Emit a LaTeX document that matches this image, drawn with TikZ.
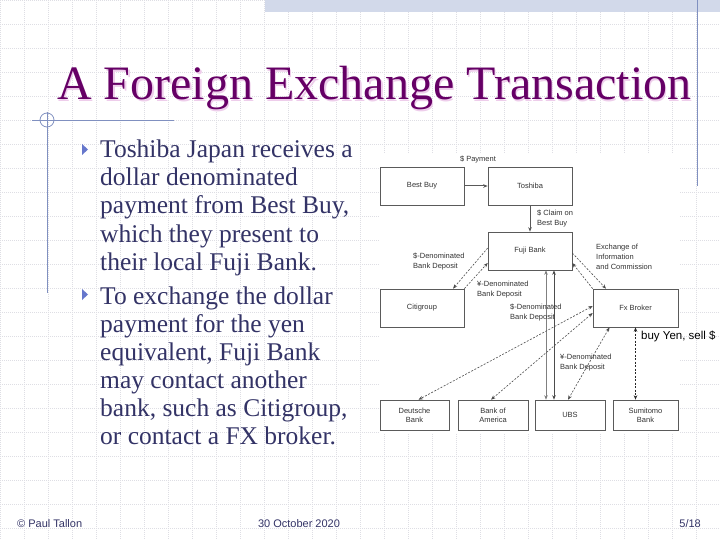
\documentclass[tikz,border=0pt]{standalone}
\usepackage{fontspec}
\setmainfont{Liberation Serif}
\newfontfamily\diagfont{Liberation Sans}
\usetikzlibrary{arrows.meta}
\definecolor{titlepurple}{RGB}{102,0,102}
\definecolor{titleshadow}{RGB}{238,205,235}
\definecolor{bodyblue}{RGB}{51,51,102}
\definecolor{bulletblue}{RGB}{102,119,204}
\definecolor{decoblue}{RGB}{128,144,192}
\definecolor{gridgray}{RGB}{222,222,228}
\definecolor{barblue}{RGB}{210,217,234}
\definecolor{boxgray}{RGB}{90,90,90}

\begin{document}
\begin{tikzpicture}[x=1pt, y=-1pt,
    >={Stealth[length=4.5pt, width=3.5pt]},
    gridline/.style={gridgray, line width=0.4pt, dash pattern=on 0.8pt off 1.2pt},
    deco/.style={decoblue, line width=0.8pt},
    bodytext/.style={anchor=base west, inner sep=0pt, bodyblue, font=\fontsize{25.5}{28}\selectfont},
    bullet/.style={bulletblue},
    firm/.style={draw=boxgray, line width=0.6pt, fill=white, align=center, inner sep=1pt,
      font=\diagfont\fontsize{7.5}{9}\selectfont, text=black!80},
    flowlabel/.style={anchor=west, inner sep=0pt, align=left,
      font=\diagfont\fontsize{7.5}{10}\selectfont, text=black!80},
    solidflow/.style={gray!70!black, line width=1pt, ->},
    dashflow/.style={black!70, line width=0.6pt, dash pattern=on 2pt off 1.5pt},
    footer/.style={inner sep=0pt, bodyblue, font=\diagfont\fontsize{11}{13}\selectfont}]

  \useasboundingbox (0,0) rectangle (720,540);

  %% ===== SLIDE BACKGROUND =====
  \fill[white] (0,0) rectangle (720,540);
  \foreach \gx in {0,24,...,720} \draw[gridline] (\gx,0) -- (\gx,540);
  \foreach \gy in {0,24,...,528} \draw[gridline] (0,\gy) -- (720,\gy);

  % Top bar and frame lines
  \fill[barblue] (265,0) rectangle (720,12);
  \draw[deco] (697,0) -- (697,186);
  \draw[deco] (32,120) -- (174,120);
  \draw[deco] (47,112) -- (47,293);
  \draw[deco] (47,120) circle[radius=7];

  % Title
  \node[anchor=base west, inner sep=0pt, titleshadow, font=\fontsize{48}{48}\selectfont]
    (titleshadow) at (58.5,101.5) {A Foreign Exchange Transaction};
  \node[anchor=base west, inner sep=0pt, titlepurple, font=\fontsize{48}{48}\selectfont]
    (title) at (57,100) {A Foreign Exchange Transaction};

  %% ===== BULLETS =====
  \fill[bullet] (82,144) -- (82,155) -- (88,149.5) -- cycle;
  \foreach \t [count=\i] in {Toshiba Japan receives a, dollar denominated,
      {payment from Best Buy,}, which they present to, their local Fuji Bank.}
    \node[bodytext] (first\i) at (100,130+28*\i) {\t};

  \fill[bullet] (82,289) -- (82,300) -- (88,294.5) -- cycle;
  \foreach \t [count=\i] in {To exchange the dollar, payment for the yen,
      {equivalent, Fuji Bank}, may contact another, {bank, such as Citigroup,},
      or contact a FX broker.}
    \node[bodytext] (second\i) at (100,276+28*\i) {\t};

  %% ===== DIAGRAM =====
  \fill[white] (379,153) rectangle (680,433);

  % Firms
  \node[firm, minimum width=84pt, minimum height=38pt] (bestbuy) at (422,186) {Best Buy};
  \node[firm, minimum width=84pt, minimum height=38pt] (toshiba) at (530,186) {Toshiba};
  \node[firm, minimum width=84pt, minimum height=38pt] (fuji) at (530,251) {Fuji Bank};
  \node[firm, minimum width=84pt, minimum height=38pt] (citi) at (422,308) {Citigroup};
  \node[firm, minimum width=85pt, minimum height=38pt] (fx) at (635.5,308) {Fx Broker};
  \node[firm, minimum width=69pt, minimum height=30pt] (deutsche) at (414.5,415) {Deutsche\\Bank};
  \node[firm, minimum width=70pt, minimum height=30pt] (bofa) at (493,415) {Bank of\\America};
  \node[firm, minimum width=70pt, minimum height=30pt] (ubs) at (570,415) {UBS};
  \node[firm, minimum width=65pt, minimum height=30pt] (sumitomo) at (645.5,415) {Sumitomo\\Bank};

  % Payment and claim
  \draw[solidflow] (bestbuy) -- (toshiba);
  \draw[solidflow] (toshiba) -- (fuji);

  % Fuji Bank and Citigroup
  \draw[dashflow, ->] ([yshift=3pt]fuji.west) -- ([xshift=31pt]citi.north);
  \draw[dashflow, ->] (citi.north east) -- ([yshift=-12pt]fuji.west);

  % Fuji Bank and FX broker
  \draw[dashflow, ->] ([yshift=-2pt]fuji.east) -- ([xshift=-29.5pt]fx.north);
  \draw[dashflow, ->] (fx.north west) -- ([yshift=-12pt]fuji.east);

  % Fuji Bank and UBS
  \draw[gray, line width=0.5pt, <->] ([xshift=16pt]fuji.south) -- ([xshift=16pt]fuji.south |- ubs.north);
  \draw[gray!60!black, line width=0.8pt, <->] ([xshift=24pt]fuji.south) -- ([xshift=24pt]fuji.south |- ubs.north);

  % FX broker and the banks
  \draw[dashflow, <->] ([yshift=2pt]fx.west) -- ([xshift=4pt]deutsche.north);
  \draw[dashflow, <->] ([yshift=-5pt]fx.west) -- ([xshift=-2pt]bofa.north);
  \draw[dashflow, <->] ([xshift=-26pt]fx.south) -- ([xshift=-2pt]ubs.north);
  \draw[dashflow, black!85, line width=0.9pt, <->] (fx.south) -- (fx.south |- sumitomo.north);

  % Flow labels
  \node[flowlabel, anchor=center] (paylabel) at (478,160) {\$ Payment};
  \node[flowlabel] (claimlabel) at (537,218.5) {\$ Claim on\\Best Buy};
  \node[flowlabel] (citidollar) at (413,262) {\$-Denominated\\Bank Deposit};
  \node[flowlabel] (citiyen) at (477,290) {¥-Denominated\\Bank Deposit};
  \node[flowlabel] (infolabel) at (596,257) {Exchange of\\Information\\and Commission};
  \node[flowlabel] (ubsdollar) at (510,313) {\$-Denominated\\Bank Deposit};
  \node[flowlabel] (ubsyen) at (560,363) {¥-Denominated\\Bank Deposit};
  \node[anchor=west, inner sep=0pt, font=\diagfont\fontsize{11.5}{13}\selectfont]
    (trade) at (641,336) {buy Yen, sell \$};

  %% ===== FOOTER =====
  \node[footer, anchor=base west] (author) at (17,527) {© Paul Tallon};
  \node[footer, anchor=base] (date) at (299,527) {30 October 2020};
  \node[footer, anchor=base east] (page) at (701,527) {5/18};

\end{tikzpicture}
\end{document}
